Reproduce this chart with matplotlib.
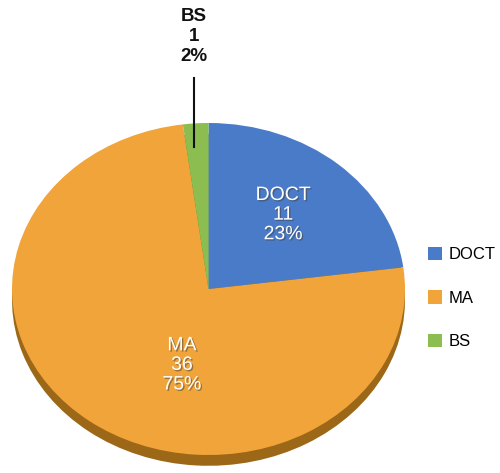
import matplotlib
matplotlib.use("Agg")
import matplotlib.pyplot as plt
import matplotlib.patheffects as pe
from matplotlib.patches import Patch

categories = ["DOCT", "MA", "BS"]
values = [11, 36, 1]
percents = ["23%", "75%", "2%"]
colors = ["#4a7bc8", "#f0a43a", "#8cbd50"]
side_colors = ["#2f5590", "#9c6818", "#5f8a2e"]

W, H = 500, 473
fig = plt.figure(figsize=(W / 100, H / 100), dpi=100)
fig.patch.set_facecolor("white")

# top face of pie spans x 12..405 px, y 123..455 px (from top)
left, right, top, bottom = 12, 405, 123, 455
ax = fig.add_axes([left / W, 1 - bottom / H, (right - left) / W, (bottom - top) / H])
ax.set_xlim(-1, 1)
ax.set_ylim(-1, 1)
ax.axis("off")

depth = 0.065
side, _ = ax.pie(values, colors=side_colors, startangle=90, counterclock=False,
                 center=(0, -depth), radius=1, frame=False)
for w in side:
    w.set_clip_on(False)
    w.set_zorder(1)
    w.set_linewidth(0)
wedges, _ = ax.pie(values, colors=colors, startangle=90, counterclock=False,
                   center=(0, 0), radius=1, frame=False)
for w in wedges:
    w.set_clip_on(False)
    w.set_zorder(2)
    w.set_linewidth(0)
ax.set_aspect("auto")
ax.set_xlim(-1, 1)
ax.set_ylim(-1, 1)

shadow = [pe.SimplePatchShadow(offset=(1, -1), shadow_rgbFace=(0.25, 0.25, 0.25), alpha=0.5), pe.Normal()]
labels = [f"{c}\n{v}\n{p}" for c, v, p in zip(categories, values, percents)]

ax.text(0.38, 0.445, labels[0], ha="center", va="center", color="white",
        fontsize=14, family="Liberation Sans", linespacing=1.2, zorder=5,
        path_effects=shadow)
ax.text(-0.135, -0.46, labels[1], ha="center", va="center", color="white",
        fontsize=14, family="Liberation Sans", linespacing=1.2, zorder=5,
        path_effects=shadow)
ax.text(-0.074, 1.52, labels[2], ha="center", va="center", color="#111111",
        fontsize=13.5, fontweight="bold", family="Liberation Sans", linespacing=1.25,
        zorder=5, clip_on=False)
ax.plot([-0.074, -0.074], [0.855, 1.27], color="#111111", lw=1.5, zorder=4,
        clip_on=False)

handles = [Patch(facecolor=c, edgecolor="none") for c in colors]
leg = fig.legend(handles, categories, loc="center left",
                 bbox_to_anchor=(428 / W, 1 - 298 / H), frameon=False,
                 prop={"family": "Liberation Sans", "size": 12},
                 handlelength=0.85, handleheight=0.85, handletextpad=0.4,
                 labelspacing=1.7, borderpad=0, borderaxespad=0)

fig.savefig("out.png", dpi=100, facecolor="white")
